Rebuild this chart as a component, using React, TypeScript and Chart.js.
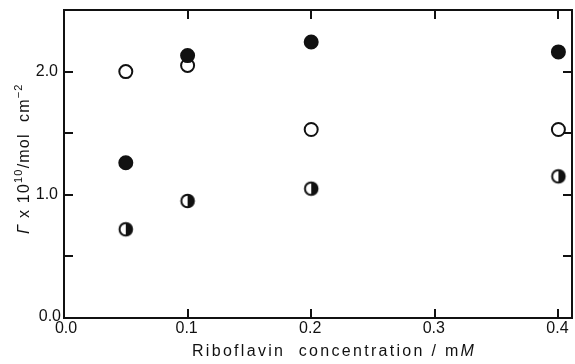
import React, { useEffect, useRef } from 'react';
import { Chart, registerables } from 'chart.js';

Chart.register(...registerables);

// ---- data ----
const concentrations = [0.05, 0.1, 0.2, 0.4];
const openValues = [2.0, 2.05, 1.53, 1.53];
const filledValues = [1.26, 2.13, 2.24, 2.16];
const halfValues = [0.72, 0.95, 1.05, 1.15];
const xTickValues = [0.1, 0.2, 0.3, 0.4];
const xTickLabels = ['0.0', '0.1', '0.2', '0.3', '0.4'];
const xLabelValues = [0, 0.1, 0.2, 0.3, 0.4];
const yTickValues = [0.5, 1.0, 1.5, 2.0];
const yLabelValues = [0, 1.0, 2.0];
const yTickLabels = ['0.0', '1.0', '2.0'];
const xMax = 0.411;
const yMax = 2.5;

const INK = '#111';
const FONT = '"Liberation Sans", Arial, sans-serif';

function makeHalfPoint(): HTMLCanvasElement {
  const c = document.createElement('canvas');
  c.width = 18;
  c.height = 18;
  const g = c.getContext('2d')!;
  const cx = 9, cy = 9, r = 6.3;
  g.fillStyle = '#fff';
  g.beginPath();
  g.arc(cx, cy, r, 0, Math.PI * 2);
  g.fill();
  g.fillStyle = INK;
  g.beginPath();
  g.moveTo(cx, cy - r);
  g.arc(cx, cy, r, -Math.PI / 2, Math.PI / 2);
  g.closePath();
  g.fill();
  g.strokeStyle = INK;
  g.lineWidth = 2;
  g.beginPath();
  g.arc(cx, cy, r, 0, Math.PI * 2);
  g.stroke();
  return c;
}

type Seg = { t: string; italic?: boolean; sup?: boolean };

function drawSegs(ctx: CanvasRenderingContext2D, segs: Seg[], x: number, y: number, size: number, spacing: number) {
  let cx = x;
  for (const s of segs) {
    const fs = s.sup ? Math.round(size * 0.7) : size;
    ctx.font = `${s.italic ? 'italic ' : ''}${fs}px ${FONT}`;
    (ctx as any).letterSpacing = `${spacing}px`;
    const dy = s.sup ? -size * 0.4 : 0;
    ctx.fillText(s.t, cx, y + dy);
    cx += ctx.measureText(s.t).width;
  }
  (ctx as any).letterSpacing = '0px';
}

const framePlugin = {
  id: 'framePlugin',
  afterDraw(chart: any) {
    const { ctx, chartArea } = chart;
    const { left, right, top, bottom } = chartArea;
    const xs = chart.scales.x;
    const ys = chart.scales.y;
    ctx.save();
    ctx.strokeStyle = INK;
    ctx.lineWidth = 2;
    ctx.strokeRect(left, top, right - left, bottom - top);
    const tl = 9;
    ctx.beginPath();
    for (const v of xTickValues) {
      const px = Math.round(xs.getPixelForValue(v));
      ctx.moveTo(px, bottom);
      ctx.lineTo(px, bottom - tl);
      ctx.moveTo(px, top);
      ctx.lineTo(px, top + tl);
    }
    for (const v of yTickValues) {
      const py = Math.round(ys.getPixelForValue(v));
      ctx.moveTo(left, py);
      ctx.lineTo(left + tl, py);
      ctx.moveTo(right, py);
      ctx.lineTo(right - tl, py);
    }
    ctx.stroke();

    ctx.fillStyle = INK;
    ctx.textBaseline = 'middle';
    ctx.font = `16px ${FONT}`;
    // x tick labels
    ctx.textAlign = 'center';
    xLabelValues.forEach((v, i) => {
      const px = xs.getPixelForValue(v) + (v === 0 ? 2 : -1);
      ctx.fillText(xTickLabels[i], px, bottom + 11);
    });
    // y tick labels
    ctx.textAlign = 'right';
    yLabelValues.forEach((v, i) => {
      const py = ys.getPixelForValue(v) + (v === 0 ? -1 : 0);
      ctx.fillText(yTickLabels[i], left - (v === 0 ? 3 : 6), py);
    });

    ctx.textAlign = 'left';
    // x title
    drawSegs(ctx, [
      { t: 'Riboflavin  concentration / m' },
      { t: 'M', italic: true },
    ], left + 128, 352, 16, 2.3);

    // y title
    ctx.save();
    ctx.translate(25, 234);
    ctx.rotate(-Math.PI / 2);
    drawSegs(ctx, [
      { t: 'Γ', italic: true },
      { t: ' x 10' },
      { t: '10', sup: true },
      { t: '/mol  cm' },
      { t: '−2', sup: true },
    ], 0, 0, 16, 1.2);
    ctx.restore();
    ctx.restore();
  },
};

export default function App() {
  const ref = useRef<HTMLCanvasElement>(null);
  useEffect(() => {
    document.body.style.margin = '0';
    const half = makeHalfPoint();
    const chart = new Chart(ref.current!, {
      type: 'scatter',
      data: {
        datasets: [
          {
            label: 'filled',
            data: concentrations.map((x, i) => ({ x, y: filledValues[i] })),
            pointStyle: 'circle',
            pointRadius: 6.5,
            pointBorderWidth: 2,
            pointBackgroundColor: INK,
            pointBorderColor: INK,
          },
          {
            label: 'open',
            data: concentrations.map((x, i) => ({ x, y: openValues[i] })),
            pointStyle: 'circle',
            pointRadius: 6.5,
            pointBorderWidth: 2,
            pointBackgroundColor: '#fff',
            pointBorderColor: INK,
          },
          {
            label: 'half',
            data: concentrations.map((x, i) => ({ x, y: halfValues[i] })),
            pointStyle: half as any,
            pointRadius: 7,
          },
        ],
      },
      options: {
        responsive: false,
        animation: false,
        events: [],
        layout: { autoPadding: false, padding: { top: 10, right: 3, left: 0, bottom: 0 } },
        plugins: { legend: { display: false }, tooltip: { enabled: false } },
        scales: {
          x: {
            type: 'linear',
            min: 0,
            max: xMax,
            grid: { display: false, drawTicks: false },
            border: { display: false },
            ticks: { display: false, stepSize: 0.1 },
            afterFit: (s: any) => {
              s.height = 46;
              s.paddingLeft = 0;
              s.paddingRight = 0;
            },
          },
          y: {
            type: 'linear',
            min: 0,
            max: yMax,
            grid: { display: false, drawTicks: false },
            border: { display: false },
            ticks: { display: false, stepSize: 0.5 },
            afterFit: (s: any) => {
              s.width = 64;
              s.paddingTop = 0;
              s.paddingBottom = 0;
            },
          },
        },
      },
      plugins: [framePlugin],
    });
    return () => chart.destroy();
  }, []);
  return (
    <div style={{ width: 575, height: 364, background: '#fff' }}>
      <canvas ref={ref} width={575} height={364} style={{ display: 'block' }} />
    </div>
  );
}
